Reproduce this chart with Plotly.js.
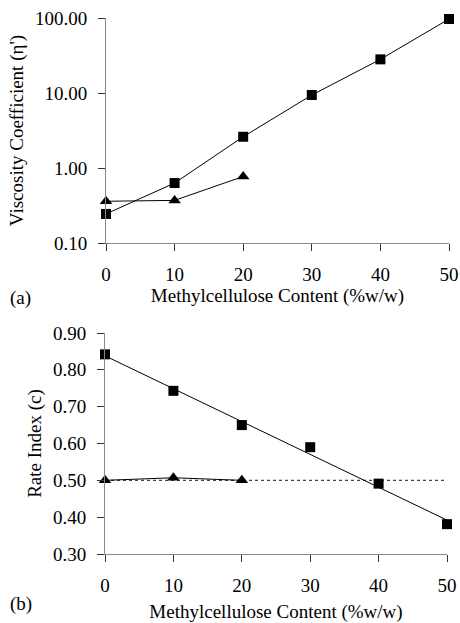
<!DOCTYPE html>
<html>
<head>
<meta charset="utf-8">
<script src="https://cdn.plot.ly/plotly-3.0.1.min.js"></script>
<style>html,body{margin:0;padding:0;background:#fff;}#chart{width:460px;height:623px;}</style>
</head>
<body>
<div id="chart"></div>
<script>
// Data
var content = [0, 10, 20, 30, 40, 50];
var contentShort = [0, 10, 20];
var viscositySquares = [0.244, 0.63, 2.61, 9.4, 28.1, 97];
var viscosityTriangles = [0.36, 0.37, 0.77];
var rateSquares = [0.842, 0.743, 0.65, 0.59, 0.491, 0.381];
var rateTriangles = [0.50, 0.507, 0.50];
var rateFitX = [0, 50];
var rateFitSquares = [0.838, 0.392];
var rateRefTriangles = [0.50, 0.50];
var viscTickVals = [0.1, 1, 10, 100];
var viscTickText = ['0.10', '1.00', '10.00', '100.00'];
var panelLabels = ['(a)', '(b)'];

// minor log tick positions (2..9 within each decade)
var minorVals = [];
[0.1, 1, 10].forEach(function (d) { for (var k = 2; k <= 9; k++) minorVals.push(d * k); });

var FONT = '"Liberation Serif", "Times New Roman", serif';
var L = 105, R = 11, T = 18, B = 69, W = 460, H = 623;
var pw = W - L - R, ph = H - T - B;
function py(pix) { return (H - B - pix) / ph; }
function px(pix) { return (pix - L) / pw; }

var sq = {symbol: 'square', size: 10, color: '#000'};
var tri = {symbol: 'triangle-up', size: 11, color: '#000'};

var traces = [
  {x: content, y: viscositySquares, xaxis: 'x', yaxis: 'y', mode: 'lines+markers',
   line: {color: '#000', width: 1}, marker: sq, cliponaxis: false},
  {x: contentShort, y: viscosityTriangles, xaxis: 'x', yaxis: 'y', mode: 'lines+markers',
   line: {color: '#000', width: 1}, marker: tri, cliponaxis: false},
  {x: rateFitX, y: rateRefTriangles, xaxis: 'x2', yaxis: 'y2', mode: 'lines',
   line: {color: '#444', width: 1.2, dash: 'dot'}, cliponaxis: false},
  {x: rateFitX, y: rateFitSquares, xaxis: 'x2', yaxis: 'y2', mode: 'lines',
   line: {color: '#000', width: 1}, cliponaxis: false},
  {x: contentShort, y: rateTriangles, xaxis: 'x2', yaxis: 'y2', mode: 'lines+markers',
   line: {color: '#000', width: 1}, marker: tri, cliponaxis: false},
  {x: content, y: rateSquares, xaxis: 'x2', yaxis: 'y2', mode: 'markers',
   marker: sq, cliponaxis: false}
];

var axBase = {
  showgrid: false, zeroline: false, showline: true, linecolor: '#888', linewidth: 1,
  ticks: 'outside', ticklen: 7, tickcolor: '#333', tickwidth: 1,
  tickfont: {family: FONT, size: 19, color: '#000'}, mirror: false
};
function ax(extra) { return Object.assign({}, axBase, extra); }

var layout = {
  width: W, height: H, showlegend: false,
  paper_bgcolor: '#fff', plot_bgcolor: '#fff',
  margin: {l: L, r: R, t: T, b: B},
  font: {family: FONT, size: 19, color: '#000'},
  xaxis: ax({domain: [px(106), 1], anchor: 'y', range: [0, 50], dtick: 10, tick0: 0,
    ticklabelstandoff: 7,
    title: {text: 'Methylcellulose Content (%w/w)', font: {family: FONT, size: 19}, standoff: 4}}),
  yaxis: ax({domain: [py(243), 1], anchor: 'x', type: 'log', range: [-1, 2],
    tickvals: viscTickVals, ticktext: viscTickText, ticklen: 7, ticklabelstandoff: 7,
    title: {text: "Viscosity Coefficient (η')", font: {family: FONT, size: 19}, standoff: 6}}),
  yaxis3: {overlaying: 'y', anchor: 'x', side: 'left', type: 'log', range: [-1, 2],
    tickvals: minorVals, showticklabels: false, ticks: 'outside', ticklen: 4,
    tickcolor: '#333', tickwidth: 1, showline: false, showgrid: false, zeroline: false},
  xaxis2: ax({domain: [0, px(447)], anchor: 'y2', range: [0, 50], dtick: 10, tick0: 0,
    ticklabelstandoff: 7,
    title: {text: 'Methylcellulose Content (%w/w)', font: {family: FONT, size: 19}, standoff: 10}}),
  yaxis2: ax({domain: [0, py(333)], anchor: 'x2', range: [0.3, 0.9], dtick: 0.1, tick0: 0.3,
    tickformat: '.2f', ticklen: 7, ticklabelstandoff: 7,
    title: {text: 'Rate Index (c)', font: {family: FONT, size: 19}, standoff: 6}}),
  annotations: [
    {text: panelLabels[0], xref: 'paper', yref: 'paper', x: px(8), y: py(298),
     xanchor: 'left', yanchor: 'middle', showarrow: false, font: {family: FONT, size: 19}},
    {text: panelLabels[1], xref: 'paper', yref: 'paper', x: px(8), y: py(604),
     xanchor: 'left', yanchor: 'middle', showarrow: false, font: {family: FONT, size: 19}}
  ]
};

Plotly.newPlot('chart', traces, layout, {displayModeBar: false, staticPlot: true});
</script>
</body>
</html>
